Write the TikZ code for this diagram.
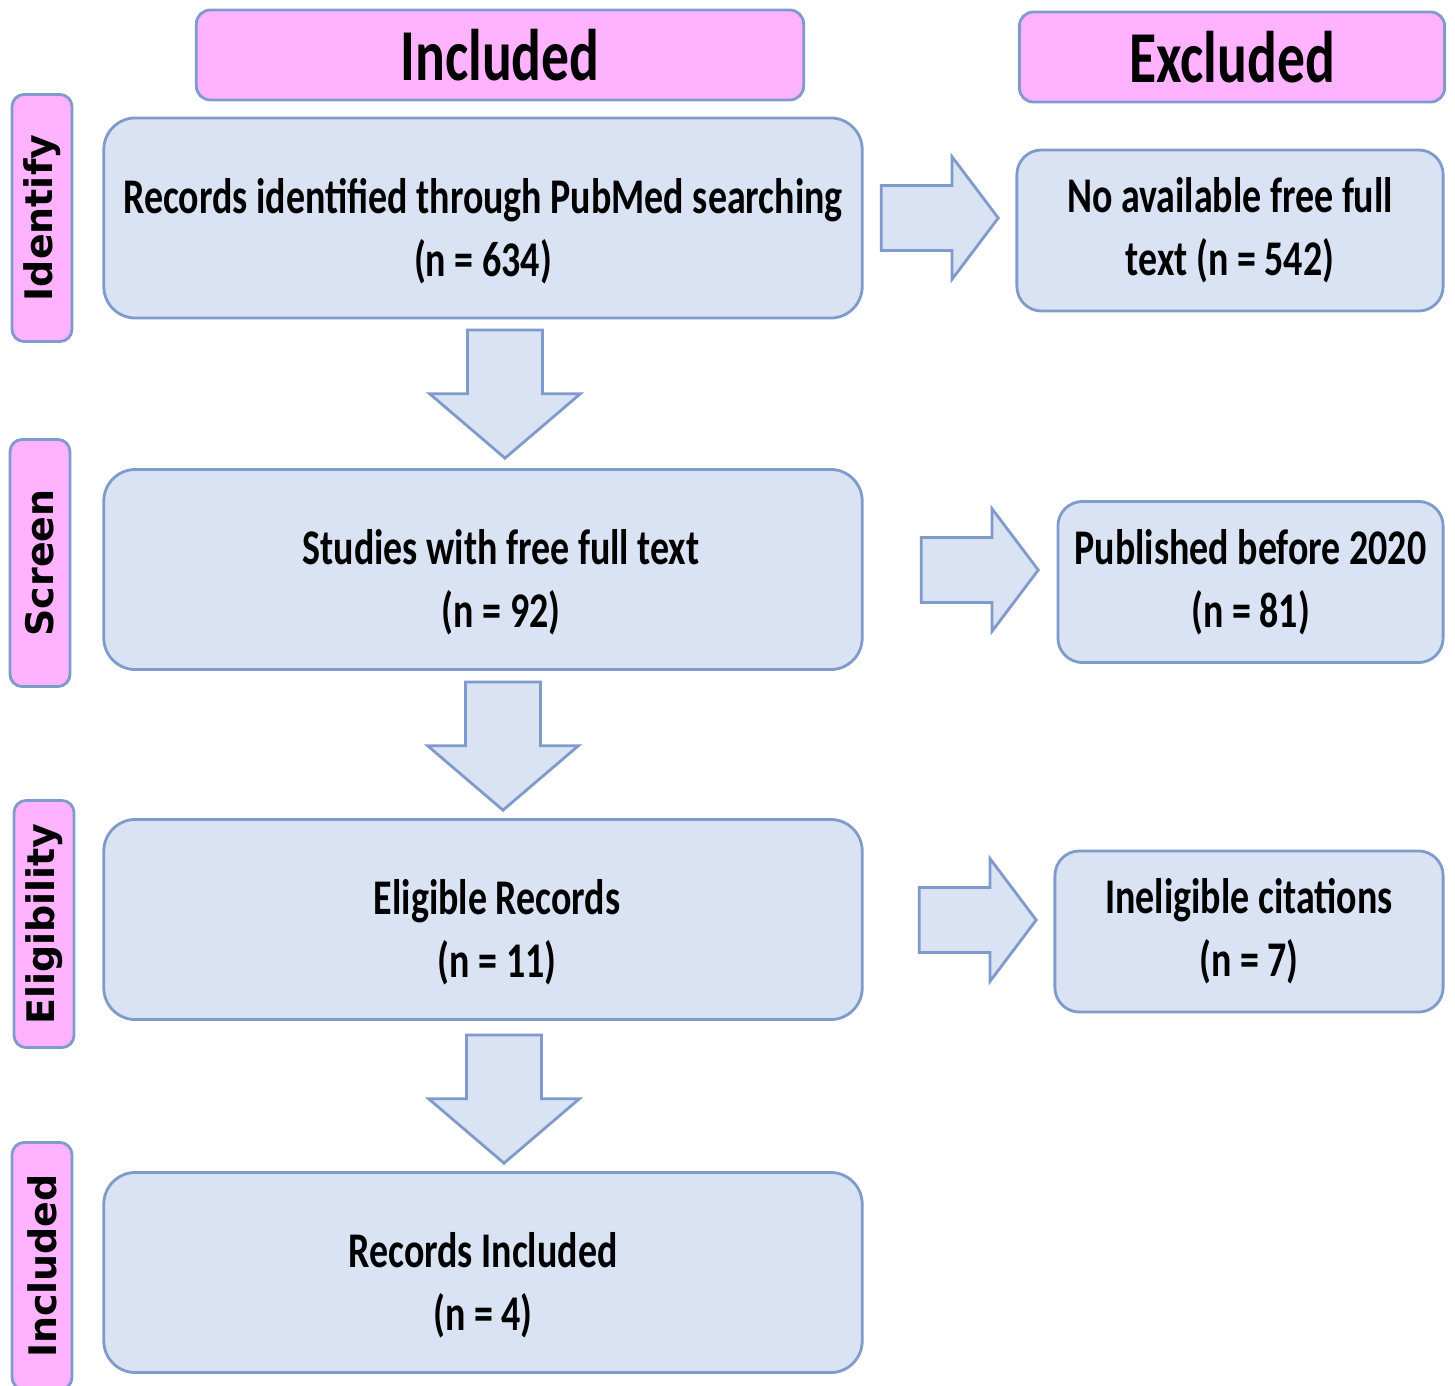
\documentclass[tikz,border=0pt]{standalone}
\usepackage{fontspec}
\setmainfont{Carlito}
\newfontfamily\boxfont[FakeStretch=0.76]{Carlito}
\newfontfamily\headfont[FakeStretch=0.76]{Carlito}
\newfontfamily\sidefont{DejaVu Sans}
\usepackage{tikz}
\usetikzlibrary{shapes.arrows}

\definecolor{boxfill}{HTML}{DAE3F3}
\definecolor{boxline}{HTML}{7F9BCB}
\definecolor{pinkfill}{HTML}{FFB3FF}

% lowers the two text lines of a stage box a little
\newcommand{\lowtext}{\rule{0pt}{17.4pt}}

\begin{document}
\begin{tikzpicture}[
    x=0.01cm, y=-0.01cm,
    header/.style={draw=boxline, fill=pinkfill, rounded corners=4pt, line width=0.8pt, minimum height=0.9cm, inner sep=0pt, font=\headfont\bfseries\fontsize{20.8}{25}\selectfont},
    side/.style={draw=boxline, fill=pinkfill, rounded corners=3.5pt, line width=0.8pt, rotate=90, minimum width=2.47cm, minimum height=0.6cm, inner sep=0pt, font=\sidefont\bfseries\fontsize{10.8}{12}\selectfont},
    stage/.style={draw=boxline, fill=boxfill, rounded corners=9pt, line width=0.8pt, minimum width=7.58cm, minimum height=2cm, align=center, font=\boxfont\bfseries\fontsize{14.2}{17.9}\selectfont},
    excl/.style={draw=boxline, fill=boxfill, rounded corners=7pt, line width=0.8pt, minimum height=1.61cm, align=center, font=\boxfont\bfseries\fontsize{14.2}{17.9}\selectfont},
    downarrow/.style={single arrow, draw=boxline, fill=boxfill, line width=0.8pt, shape border rotate=270, minimum height=1.28cm, single arrow head extend=0.38cm, single arrow tip angle=99, inner sep=0.36cm, anchor=tip},
    rightarrow/.style={single arrow, draw=boxline, fill=boxfill, line width=0.8pt, minimum height=1.17cm, single arrow head extend=0.29cm, single arrow tip angle=106, inner sep=0.31cm, anchor=tip}
]
    \useasboundingbox (0,0) rectangle (1455,1385);

    % Column headers
    \node[header, minimum width=6.07cm] (hin) at (500, 55) {Included};
    \node[header, minimum width=4.25cm] (hex) at (1232, 57) {Excluded};

    % Stage labels
    \node[side] (sid) at (42, 218) {Identify};
    \node[side] (ssc) at (40, 563) {Screen};
    \node[side] (sel) at (44, 924) {Eligibility};
    \node[side] (sin) at (42, 1266) {Included};

    % Included records
    \node[stage] (b1) at (483, 218) {\lowtext Records identified through PubMed searching\\(n = 634)};
    \node[stage] (b2) at (483, 569.5) {\lowtext\hspace*{0.36cm}Studies with free full text\\\hspace*{0.36cm}(n = 92)};
    \node[stage] (b3) at (483, 919.5) {\lowtext\hspace*{0.28cm}Eligible Records\\\hspace*{0.28cm}(n = 11)};
    \node[stage] (b4) at (483, 1272.5) {\lowtext Records Included\\(n = 4)};

    % Excluded records
    \node[excl, minimum width=4.26cm] (r1) at (1230, 230.5) {No available free full\\text (n = 542)};
    \node[excl, minimum width=3.85cm] (r2) at (1250.5, 582) {Published before 2020\\(n = 81)};
    \node[excl, minimum width=3.88cm] (r3) at (1249, 931.5) {Ineligible citations\\(n = 7)};

    % Block arrows (placed by their tips)
    \node[downarrow] (d1) at (505, 460) {};
    \node[downarrow] (d2) at (503, 812) {};
    \node[downarrow] (d3) at (504, 1165) {};
    \node[rightarrow] (a1) at (1000, 218) {};
    \node[rightarrow] (a2) at (1040, 570) {};
    \node[rightarrow] (a3) at (1038, 920) {};

\end{tikzpicture}
\end{document}
